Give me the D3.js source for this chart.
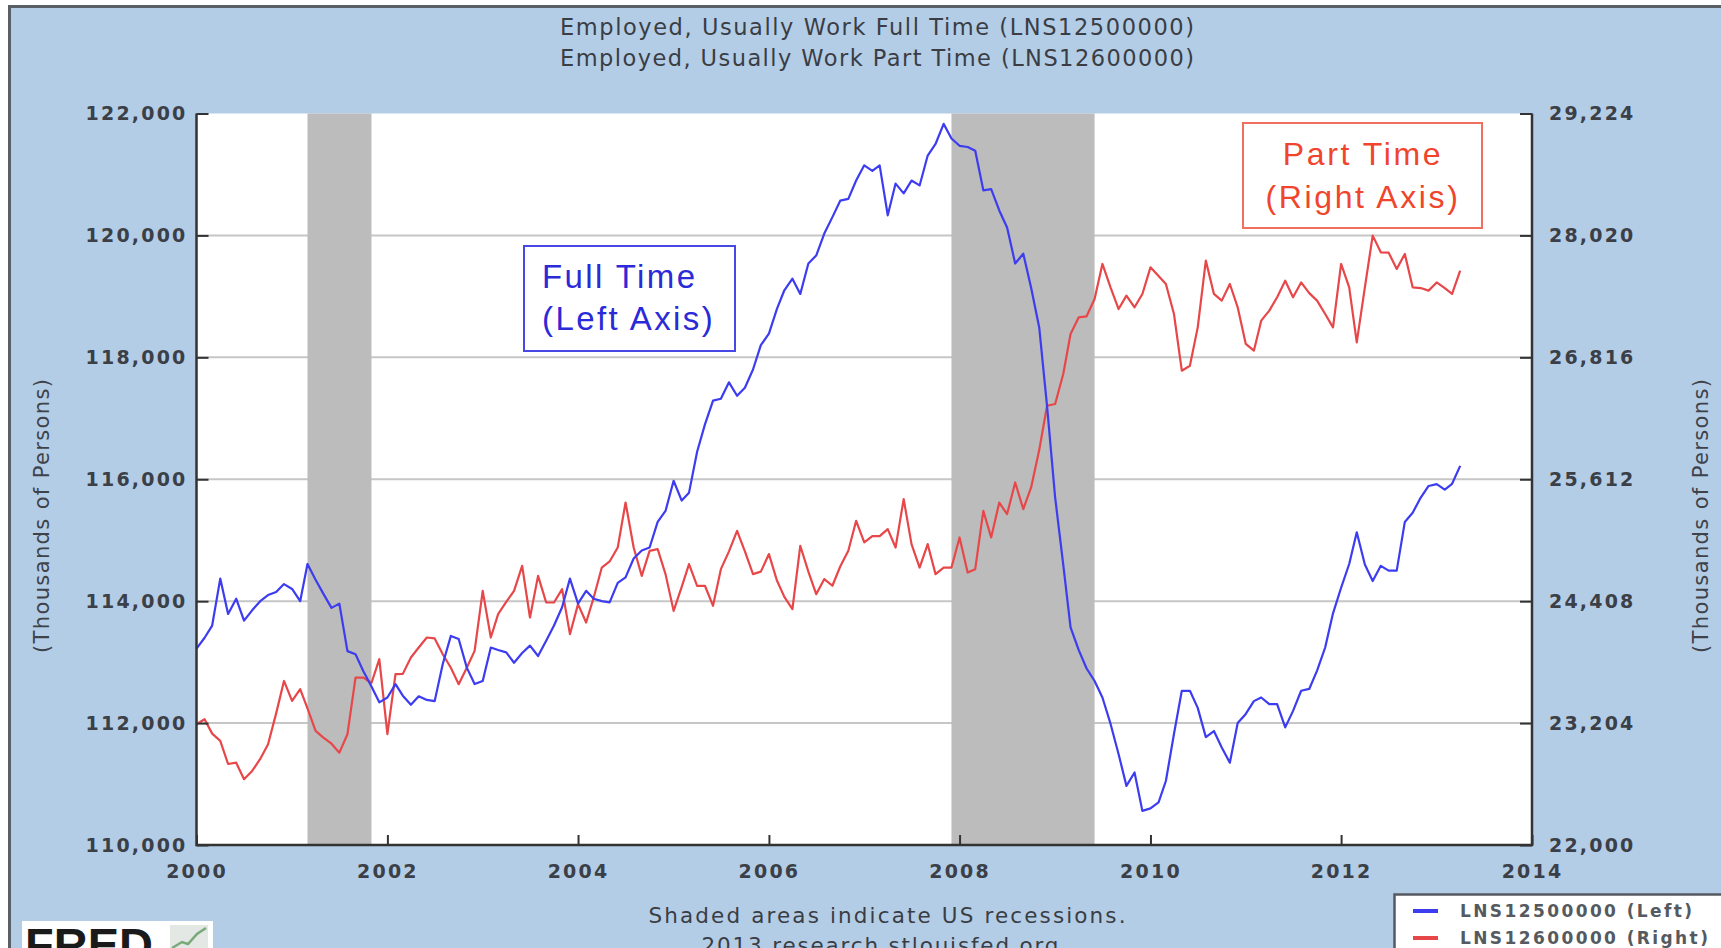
<!DOCTYPE html>
<html>
<head>
<meta charset="utf-8">
<script src="https://cdn.jsdelivr.net/npm/d3@7"></script>
<style>
body { margin: 0; background: #fff; }
svg { display: block; }
</style>
</head>
<body>
<div id="chart"></div>
<script>
// monthly values, Jan 2000 - Apr 2013 (thousands of persons)
var fullTime = [113220,113400,113600,114370,113790,114040,113680,113850,114000,114100,114150,114280,
  114200,114000,114610,114350,114120,113890,113960,113180,113130,112850,112600,112340,
  112420,112640,112450,112300,112440,112380,112360,112970,113430,113380,112910,112640,
  112690,113240,113200,113160,112990,113150,113270,113100,113350,113600,113900,114370,
  113960,114170,114040,114000,113980,114300,114390,114700,114830,114880,115300,115480,
  115975,115650,115780,116450,116900,117290,117320,117590,117370,117500,117800,118200,
  118390,118800,119100,119290,119040,119540,119670,120030,120300,120570,120600,120900,
  121150,121060,121150,120330,120850,120690,120900,120820,121310,121500,121830,121590,
  121470,121450,121390,120740,120760,120410,120130,119540,119700,119140,118490,117200,
  115700,114600,113570,113200,112900,112690,112420,111990,111490,110970,111190,110560,
  110600,110700,111050,111820,112530,112530,112250,111770,111870,111600,111350,112000,
  112150,112360,112420,112310,112310,111930,112200,112530,112560,112860,113240,113800,
  114220,114610,115130,114600,114330,114580,114500,114500,115300,115450,115700,115890,
  115920,115830,115925,116220];

var partTime = [23193,23242,23100,23028,22800,22813,22650,22731,22850,22995,23300,23620,
  23423,23539,23350,23127,23061,23000,22912,23094,23653,23653,23600,23835,
  23094,23687,23690,23852,23950,24049,24040,23884,23750,23588,23750,23917,
  24510,24049,24280,24400,24510,24757,24247,24658,24395,24395,24527,24082,
  24379,24197,24444,24740,24800,24938,25382,24938,24658,24905,24922,24675,
  24312,24550,24774,24560,24560,24362,24724,24900,25103,24900,24675,24700,
  24873,24609,24450,24329,24955,24700,24477,24626,24560,24750,24905,25202,
  24988,25050,25050,25120,24938,25416,24971,24740,24971,24675,24740,24740,
  25037,24691,24724,25300,25037,25382,25268,25580,25317,25531,25900,26338,
  26355,26651,27047,27210,27220,27392,27738,27507,27293,27425,27310,27442,
  27705,27620,27540,27244,26684,26733,27112,27771,27442,27376,27540,27310,
  26948,26882,27178,27277,27409,27573,27409,27556,27450,27376,27244,27112,
  27738,27507,26964,27507,28018,27853,27850,27689,27837,27507,27500,27475,
  27556,27500,27442,27672];

var leftTicks = [110000,112000,114000,116000,118000,120000,122000];
var rightTicks = [22000,23204,24408,25612,26816,28020,29224];
var yearTicks = [2000,2002,2004,2006,2008,2010,2012,2014];
var recessions = [["2001-03-01","2001-11-01"],["2007-12-01","2009-06-01"]];
var titles = ["Employed, Usually Work Full Time (LNS12500000)",
              "Employed, Usually Work Part Time (LNS12600000)"];
var legendItems = [["LNS12500000 (Left)","#3c3cf0"],["LNS12600000 (Right)","#e8474a"]];

var W = 1721, H = 948;
var pl = 196.5, pr = 1532, pt = 113.5, pb = 845;

var parse = d3.timeParse("%Y-%m-%d");
var months = d3.timeMonth.range(new Date(2000,0,1), new Date(2000, fullTime.length, 1));

var x = d3.scaleTime().domain([new Date(2000,0,1), new Date(2014,0,1)]).range([pl, pr]);
var yL = d3.scaleLinear().domain([110000,122000]).range([pb, pt]);
var yR = d3.scaleLinear().domain([22000,29224]).range([pb, pt]);

var svg = d3.select("#chart").append("svg")
  .attr("width", W).attr("height", H);

// page frame
svg.append("rect")
  .attr("x", 9.5).attr("y", 6.5).attr("width", W + 20).attr("height", H + 20)
  .style("fill", "#b4cde6").style("stroke", "#5a5f66").style("stroke-width", 3);

// titles
svg.selectAll(".title").data(titles).enter().append("text")
  .attr("class", "title")
  .attr("x", 877).attr("y", function(d,i){ return 35 + i*31; })
  .attr("text-anchor", "middle")
  .attr("textLength", 634).attr("lengthAdjust", "spacing")
  .style("font-family", "DejaVu Sans").style("font-size", "22.5px")
  .style("fill", "#3a3d44")
  .text(function(d){ return d; });

// plot background
svg.append("rect")
  .attr("x", pl).attr("y", pt).attr("width", pr - pl).attr("height", pb - pt)
  .style("fill", "#fff");

// gridlines
svg.selectAll(".grid").data(leftTicks.slice(1, -1)).enter().append("line")
  .attr("x1", pl).attr("x2", pr)
  .attr("y1", function(d){ return yL(d); }).attr("y2", function(d){ return yL(d); })
  .style("stroke", "#c6c6c6").style("stroke-width", 2);

// recession bars
svg.selectAll(".rec").data(recessions).enter().append("rect")
  .attr("x", function(d){ return x(parse(d[0])); })
  .attr("width", function(d){ return x(parse(d[1])) - x(parse(d[0])); })
  .attr("y", pt).attr("height", pb - pt)
  .style("fill", "#bcbcbc");

// series
var lineR = d3.line().x(function(d,i){ return x(months[i]); }).y(function(d){ return yR(d); });
var lineL = d3.line().x(function(d,i){ return x(months[i]); }).y(function(d){ return yL(d); });

svg.append("path").datum(partTime).attr("d", lineR)
  .style("fill", "none").style("stroke", "#e8474a").style("stroke-width", 2.2)
  .style("stroke-linejoin", "round");
svg.append("path").datum(fullTime).attr("d", lineL)
  .style("fill", "none").style("stroke", "#3c3cf0").style("stroke-width", 2.2)
  .style("stroke-linejoin", "round");

// axes
function styleAxis(g) {
  g.select(".domain").remove();
  g.selectAll(".tick line").style("stroke", "#333").style("stroke-width", 2);
  g.selectAll(".tick text")
    .style("font-family", "DejaVu Sans").style("font-weight", "bold")
    .style("font-size", "19px").style("letter-spacing", "2.2px")
    .style("fill", "#3b3f47");
}

svg.append("g").attr("transform", "translate(" + pl + ",0)")
  .call(d3.axisLeft(yL).tickValues(leftTicks).tickSize(-12).tickPadding(9)
    .tickFormat(d3.format(",")))
  .call(styleAxis);

svg.append("g").attr("transform", "translate(" + pr + ",0)")
  .call(d3.axisRight(yR).tickValues(rightTicks).tickSize(-12).tickPadding(17)
    .tickFormat(d3.format(",")))
  .call(styleAxis);

svg.append("g").attr("transform", "translate(0," + pb + ")")
  .call(d3.axisBottom(x).tickValues(yearTicks.map(function(y){ return new Date(y,0,1); }))
    .tickSize(-10).tickPadding(20).tickFormat(d3.timeFormat("%Y")))
  .call(styleAxis);

svg.append("path")
  .attr("d", "M" + pl + "," + pt + "V" + pb + "H" + pr + "V" + pt)
  .style("fill", "none").style("stroke", "#333").style("stroke-width", 2.5);

// axis titles
[[42, "(Thousands of Persons)"], [1701, "(Thousands of Persons)"]].forEach(function(a){
  svg.append("text")
    .attr("transform", "translate(" + a[0] + ",516) rotate(-90)")
    .attr("text-anchor", "middle").attr("dy", "0.35em")
    .attr("textLength", 274).attr("lengthAdjust", "spacing")
    .style("font-family", "DejaVu Sans").style("font-size", "21px")
    .style("fill", "#3e424a")
    .text(a[1]);
});

// annotation boxes
svg.append("rect").attr("x", 524).attr("y", 246).attr("width", 211).attr("height", 105)
  .style("fill", "#fff").style("stroke", "#4848e6").style("stroke-width", 2);
svg.selectAll(".ft").data(["Full Time", "(Left Axis)"]).enter().append("text")
  .attr("x", 542).attr("y", function(d,i){ return 288 + i*42; })
  .style("font-family", "Liberation Sans, Arial").style("font-size", "33px")
  .style("letter-spacing", "2.4px").style("fill", "#2a2ad8")
  .text(function(d){ return d; });

svg.append("rect").attr("x", 1243).attr("y", 123).attr("width", 239).attr("height", 105)
  .style("fill", "#fff").style("stroke", "#f07060").style("stroke-width", 2);
svg.selectAll(".pt").data(["Part Time", "(Right Axis)"]).enter().append("text")
  .attr("x", 1363).attr("y", function(d,i){ return 165 + i*43; })
  .attr("text-anchor", "middle")
  .style("font-family", "Liberation Sans, Arial").style("font-size", "32px")
  .style("letter-spacing", "2.6px").style("fill", "#f0452c")
  .text(function(d){ return d; });

// footer
svg.append("text").attr("x", 887).attr("y", 923).attr("text-anchor", "middle")
  .attr("textLength", 477).attr("lengthAdjust", "spacing")
  .style("font-family", "DejaVu Sans").style("font-size", "21.5px").style("fill", "#3a3d44")
  .text("Shaded areas indicate US recessions.");
svg.append("text").attr("x", 880).attr("y", 953).attr("text-anchor", "middle")
  .attr("textLength", 357).attr("lengthAdjust", "spacing")
  .style("font-family", "DejaVu Sans").style("font-size", "21.5px").style("fill", "#3a3d44")
  .text("2013 research.stlouisfed.org");

// FRED logo
svg.append("rect").attr("x", 22).attr("y", 921).attr("width", 191).attr("height", 40)
  .style("fill", "#fff");
svg.append("text").attr("x", 25).attr("y", 961)
  .style("font-family", "Liberation Sans, Arial").style("font-weight", "bold")
  .style("font-size", "47px").style("fill", "#1a1a1a")
  .text("FRED");
svg.append("rect").attr("x", 170).attr("y", 925).attr("width", 38).attr("height", 30)
  .style("fill", "#e4e8e4");
svg.append("path").attr("d", "M172,948 L182,942 L188,944 L197,934 L206,928")
  .style("fill", "none").style("stroke", "#7aa97a").style("stroke-width", 2.5);

// legend
svg.append("rect").attr("x", 1394.5).attr("y", 894.5).attr("width", 340).attr("height", 70)
  .style("fill", "#fff").style("stroke", "#555a60").style("stroke-width", 2.5);
var lg = svg.selectAll(".lg").data(legendItems).enter().append("g")
  .attr("transform", function(d,i){ return "translate(0," + (911 + i*27) + ")"; });
lg.append("line").attr("x1", 1413).attr("x2", 1438)
  .style("stroke", function(d){ return d[1]; }).style("stroke-width", 4);
lg.append("text").attr("x", 1460).attr("dy", "0.35em")
  .style("font-family", "DejaVu Sans").style("font-weight", "bold")
  .style("font-size", "17px").style("letter-spacing", "2.4px").style("fill", "#555a60")
  .text(function(d){ return d[0]; });
</script>
</body>
</html>
